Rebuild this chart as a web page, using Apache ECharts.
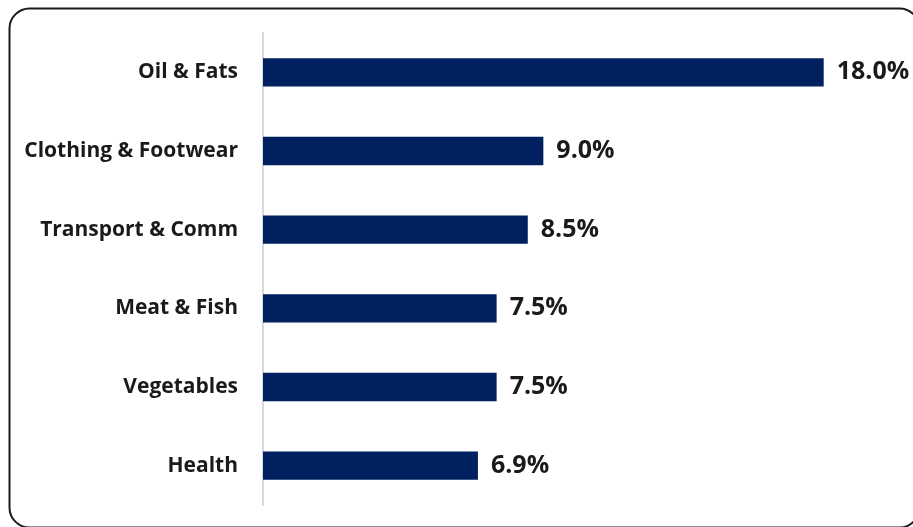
<!DOCTYPE html>
<html><head><meta charset="utf-8">
<script src="https://cdn.jsdelivr.net/npm/echarts@6/dist/echarts.min.js"></script>
<style>html,body{margin:0;padding:0;background:#fff}#c{width:913px;height:527px}</style>
</head><body><div id="c"></div>
<script>
const categories = ["Oil & Fats", "Clothing & Footwear", "Transport & Comm", "Meat & Fish", "Vegetables", "Health"];
const values = [18.0, 9.0, 8.5, 7.5, 7.5, 6.9];

const chart = echarts.init(document.getElementById('c'), null, {renderer: 'canvas'});
chart.setOption({
  animation: false,
  backgroundColor: '#fff',
  graphic: [{
    type: 'rect', left: 7, top: 6, silent: true,
    shape: {width: 910, height: 519, r: 20},
    style: {fill: 'none', stroke: '#1a1a1a', lineWidth: 2}
  }],
  grid: {left: 263, top: 33, bottom: 22, right: 27, containLabel: false},
  xAxis: {type: 'value', min: 0, max: 20, show: false},
  yAxis: {
    type: 'category', data: categories, inverse: true,
    axisLine: {show: true, lineStyle: {color: '#d9d9d9', width: 2}},
    axisTick: {show: false},
    axisLabel: {margin: 25, fontFamily: 'Open Sans', fontWeight: 'bold', fontSize: 21, color: '#1a1a1a'}
  },
  series: [{
    type: 'bar', data: values, barWidth: '36%',
    itemStyle: {color: '#002060'},
    label: {show: true, position: 'right', distance: 13, fontFamily: 'Open Sans', fontWeight: 'bold', fontSize: 25, color: '#1a1a1a',
      formatter: p => p.value.toFixed(1) + '%'}
  }]
});
</script></body></html>
